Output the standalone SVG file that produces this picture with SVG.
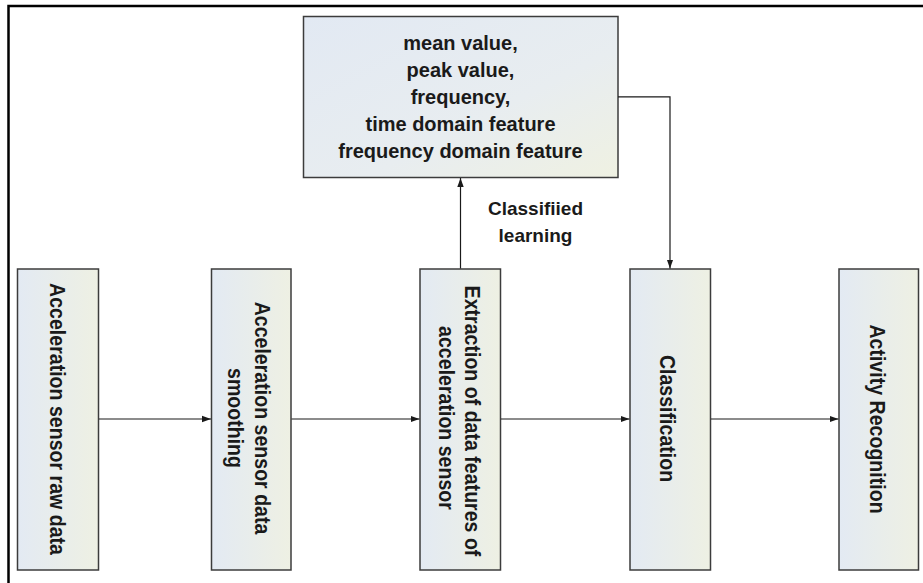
<svg xmlns="http://www.w3.org/2000/svg" width="923" height="583" viewBox="0 0 923 583">
<style>
.box{stroke:#3c3c3c;stroke-width:1.5}
.vbox{fill:url(#gv)}
.tbox{fill:url(#gt)}
.t{font-family:"Liberation Sans",Arial,sans-serif;font-weight:bold;fill:#1a1a1a;text-anchor:middle}
.top{font-size:20px}
.lbl{font-size:19px}
.vt{font-size:22px}
.con{fill:none;stroke:#1a1a1a;stroke-width:1.2}
.frame{fill:none;stroke:#000;stroke-width:2.5}
</style>
<defs>
<linearGradient id="gv" x1="0" y1="0" x2="1" y2="0">
<stop offset="0" stop-color="#e3eaf3"/>
<stop offset="1" stop-color="#eef0e3"/>
</linearGradient>
<linearGradient id="gt" x1="0" y1="0" x2="1" y2="1">
<stop offset="0" stop-color="#e2e9f3"/>
<stop offset="0.6" stop-color="#e8edf0"/>
<stop offset="1" stop-color="#eff1e2"/>
</linearGradient>
<marker id="ah" markerWidth="10" markerHeight="8" refX="9" refY="4" orient="auto" markerUnits="userSpaceOnUse">
<path d="M0,0.8 L9,4 L0,7.2 Z" fill="#1a1a1a"/>
</marker>
</defs>
<rect width="923" height="583" fill="#fff"/>
<path class="frame" d="M8.5,583 V6 H923"/>

<g id="features">
<rect class="box tbox" x="303.5" y="16.5" width="314.5" height="161"/>
<text class="t top" x="460.5" y="49.5">mean value,</text>
<text class="t top" x="460.5" y="76.5">peak value,</text>
<text class="t top" x="460.5" y="103.5">frequency,</text>
<text class="t top" x="460.5" y="130.5">time domain feature</text>
<text class="t top" x="460.5" y="157.5">frequency domain feature</text>
</g>

<g id="raw">
<rect class="box vbox" x="17.5" y="269" width="81" height="301"/>
<text class="t vt" transform="translate(49.5,419) rotate(90) scale(0.89,1)">Acceleration sensor raw data</text>
</g>

<g id="smoothing">
<rect class="box vbox" x="211.5" y="269" width="79.5" height="301"/>
<text class="t vt" transform="translate(255,418) rotate(90) scale(0.89,1)">Acceleration sensor data</text>
<text class="t vt" transform="translate(228,418) rotate(90) scale(0.89,1)">smoothing</text>
</g>

<g id="extraction">
<rect class="box vbox" x="420" y="269" width="80.5" height="301"/>
<text class="t vt" transform="translate(465,421) rotate(90) scale(0.89,1)">Extraction of data features of</text>
<text class="t vt" transform="translate(438.5,418) rotate(90) scale(0.89,1)">acceleration sensor</text>
</g>

<g id="classification">
<rect class="box vbox" x="630" y="269" width="80.5" height="301"/>
<text class="t vt" transform="translate(660,418.5) rotate(90) scale(0.89,1)">Classification</text>
</g>

<g id="activity">
<rect class="box vbox" x="839" y="269" width="79.5" height="301"/>
<text class="t vt" transform="translate(869.5,419) rotate(90) scale(0.89,1)">Activity Recognition</text>
</g>

<g id="connectors">
<line class="con" x1="99" y1="419" x2="211" y2="419" marker-end="url(#ah)"/>
<line class="con" x1="291.5" y1="419" x2="419.5" y2="419" marker-end="url(#ah)"/>
<line class="con" x1="501" y1="419" x2="629.5" y2="419" marker-end="url(#ah)"/>
<line class="con" x1="711" y1="419" x2="838.5" y2="419" marker-end="url(#ah)"/>
<line class="con" x1="460.5" y1="268.5" x2="460.5" y2="178" marker-end="url(#ah)"/>
<polyline class="con" points="618,96.8 670,96.8 670,268.5" marker-end="url(#ah)"/>
<text class="t lbl" x="535.5" y="215">Classifiied</text>
<text class="t lbl" x="535.5" y="242">learning</text>
</g>
</svg>
